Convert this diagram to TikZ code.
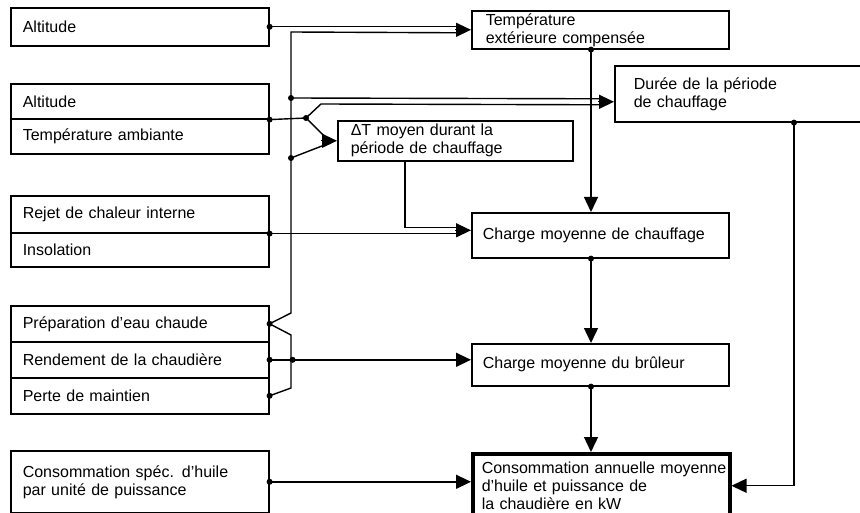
\documentclass[tikz,border=0pt]{standalone}
\usepackage{fontspec}
\setmainfont{Liberation Sans}
\usetikzlibrary{arrows.meta,calc}
\begin{document}
\begin{tikzpicture}[x=1pt,y=-1pt,
  every node/.style={font=\fontsize{16}{18}\selectfont},
  blk/.style={draw,line width=1.6pt,anchor=north west,align=left,inner xsep=12pt,inner ysep=0pt},
  lbox/.style={blk,text width=234pt},
  wire/.style={line width=1.4pt},
  flow/.style={line width=1.4pt,-{Triangle[length=15pt,width=14pt]}}]
\useasboundingbox (0,0) rectangle (860,513);
\clip (0,0) rectangle (860,513);
\node[lbox,minimum height=38pt] (alt1) at (10,7) {Altitude};
\node[lbox,minimum height=35pt] (alt2) at (10,83) {Altitude};
\node[lbox,minimum height=35pt] (tamb) at (10,118) {Température ambiante};
\node[lbox,minimum height=37pt] (rejet) at (10,195) {Rejet de chaleur interne};
\node[lbox,minimum height=34pt] (insol) at (10,232) {Insolation};
\node[lbox,minimum height=36pt] (prep) at (10,305) {Préparation d’eau chaude};
\node[lbox,minimum height=36pt] (rend) at (10,341) {Rendement de la chaudière};
\node[lbox,minimum height=36pt] (perte) at (10,377) {Perte de maintien};
\node[lbox,minimum height=62pt] (cspec) at (10,450) {Consommation spéc. d’huile\\par unité de puissance};
\node[blk,text width=229pt,inner xsep=14pt,minimum height=38pt] (tec) at (471,10) {Température\\extérieure compensée};
\node[blk,text width=228pt,inner xsep=19pt,minimum height=56pt] (duree) at (614,65) {Durée de la période\\de chauffage};
\node[blk,text width=209pt,inner xsep=13pt,minimum height=40pt] (dT) at (337,120) {ΔT moyen durant la\\période de chauffage};
\node[blk,text width=235pt,inner xsep=11pt,minimum height=45pt] (cmc) at (471,212) {Charge moyenne de chauffage};
\node[blk,text width=235pt,inner xsep=11pt,minimum height=42pt] (cmb) at (471,343) {Charge moyenne du brûleur};
\node[blk,line width=3.5pt,text width=239pt,inner xsep=9pt,minimum height=64pt] (conso) at (471,452) {\mbox{Consommation annuelle moyenne}\\d’huile et puissance de\\la chaudière en kW};
\coordinate (dtip) at ($(duree.west)+(0,8)$);
\coordinate (ctip) at ($(cmc.west)+(0,-5)$);
\draw[wire] (alt1.east) -- ($(tec.west)+(-10,-3)$);
\draw[wire] (prep.east) -- (291,313) -- (291,32) -- ($(tec.west)+(-10,3)$);
\draw[flow] ($(tec.west)+(-16,0)$) -- (tec.west);
\draw[wire] (prep.east) -- (291,335) -- (291,388) -- (perte.east);
\draw[flow] (rend.east) -- (rend.east -| cmb.west);
\draw[wire] (291,98) -- ($(dtip)+(-10,-3)$);
\draw[wire] (alt2.south east) -- (306,118) -- (321,104) -- ($(dtip)+(-10,3)$);
\draw[flow] ($(dtip)+(-16,0)$) -- (dtip);
\draw[wire] (306,118) -- ($(dT.west)+(-12,-4)$);
\draw[wire] (291,158) -- ($(dT.west)+(-12,4)$);
\draw[flow] ($(dT.west)+(-16,0)$) -- (dT.west);
\draw[wire] (rejet.south east) -- ($(rejet.south east -| ctip)+(-10,0)$);
\draw[wire] ($(dT.south west)+(68,0)$) |- ($(ctip)+(-10,-3)$);
\draw[flow] ($(ctip)+(-16,0)$) -- (ctip);
\draw[flow] ($(tec.south west)+(120,0)$) -- ($(cmc.north west)+(120,0)$);
\draw[flow] ($(cmc.south west)+(120,0)$) -- ($(cmb.north west)+(120,0)$);
\draw[flow] ($(cmb.south west)+(120,0)$) -- ($(conso.north west)+(120,0)$);
\draw[flow] ($(duree.south west)+(180,0)$) |- (conso.east);
\draw[flow] (cspec.east) -- (cspec.east -| conso.west);
\fill (alt1.east) circle (3);
\fill (alt2.south east) circle (3);
\fill (306,118) circle (3);
\fill (291,98) circle (3);
\fill (291,158) circle (3);
\fill (rejet.south east) circle (3);
\fill (prep.east) circle (3);
\fill (rend.east) circle (3);
\fill ($(rend.east)+(23,0)$) circle (3);
\fill (perte.east) circle (3);
\fill (cspec.east) circle (3);
\fill ($(tec.south west)+(120,0)$) circle (3);
\fill ($(cmc.south west)+(120,0)$) circle (3);
\fill ($(cmb.south west)+(120,0)$) circle (3);
\fill ($(duree.south west)+(180,0)$) circle (3);
\end{tikzpicture}
\end{document}
